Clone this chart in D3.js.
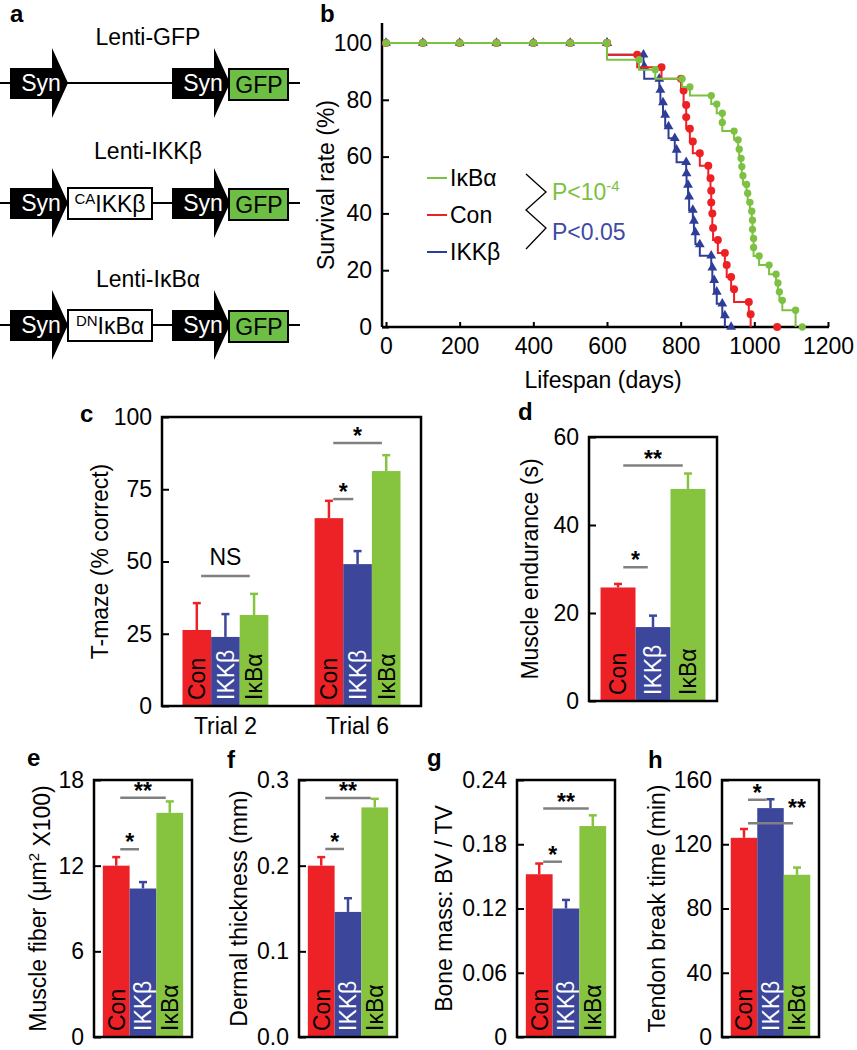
<!DOCTYPE html>
<html lang='en'>
<head>
<meta charset='UTF-8'>
<script src='https://d3js.org/d3.v7.min.js'></script>
<title>NF-kB ageing figure</title>
<style>
  body { margin: 0; background: #fff; }
  svg text { font-family: 'Liberation Sans', Arial, sans-serif; }
</style>
</head>
<body>
<svg id='fig' width='857' height='1050'></svg>
<script>
// ---- data ----
const groups = ['Con', 'IKKβ', 'IκBα']

// panel a: constructs
const constructTitles = ['Lenti-GFP', 'Lenti-IKKβ', 'Lenti-IκBα']
const constructInserts = [null, ['CA', 'IKKβ'], ['DN', 'IκBα']]

// panel b: Kaplan-Meier steps (day of death, survival % just before it)
const survTopDays = [0, 100, 200, 300, 400, 500, 600]
const conDays = [600, 682, 748, 801, 808, 815, 815, 825, 833, 852, 875, 881, 883, 883, 886, 888, 901, 920, 925, 937, 945, 985, 990]
const conSurv = [100, 95.9, 91.5, 87.4, 83.3, 78.2, 73.9, 69.8, 65.3, 61.2, 56.8, 52.4, 48, 43.8, 40, 34.9, 30.6, 26.1, 21.8, 17.6, 13.3, 8.8, 4.5]
const ikkDays = [600, 699, 701, 742, 745, 752, 758, 767, 784, 789, 815, 816, 820, 823, 833, 836, 840, 852, 883, 886, 891, 898, 913, 920]
const ikkSurv = [100, 95.9, 91.8, 87.4, 83.5, 79.1, 74.7, 70.6, 66.5, 62.4, 58, 54.1, 50, 45.9, 41.2, 37.4, 33.3, 29.1, 25.1, 20.9, 16.5, 12.4, 8.2, 4.1]
const ikbDays = [600, 687, 731, 804, 825, 883, 898, 913, 913, 945, 956, 959, 964, 966, 969, 979, 982, 988, 993, 995, 995, 998, 998, 1013, 1040, 1059, 1064, 1068, 1076, 1112]
const ikbSurv = [100, 94.1, 90.6, 87.4, 84.5, 81.5, 78.5, 75.3, 72, 69, 65.9, 62.6, 59.4, 56.5, 53.3, 50.2, 47.1, 43.9, 40.8, 37.6, 34.4, 31.2, 28, 25, 21.8, 18.6, 15.5, 12.4, 9.4, 5.9]
const lastCensored = [1062, 937, 1130]   // Con, IKKβ, IκBα marks at 0 %
const survTicksX = [0, 200, 400, 600, 800, 1000, 1200]
const survTicksY = [0, 20, 40, 60, 80, 100]

// panel c: T-maze
const tmazeTrials = ['Trial 2', 'Trial 6']
const tmazeMean = [[26.3, 23.9, 31.5], [65, 49.1, 81.3]]
const tmazeErr = [[9.3, 7.9, 7.3], [6, 4.5, 5.5]]
const tmazeSig = [[0, 0, 2, 'NS', 45], [1, 0, 2, '*', 91], [1, 0, 1, '*', 71.6]]

// panels d-h
const enduranceMean = [25.8, 16.8, 48.2]
const enduranceErr = [0.8, 2.6, 3.5]
const enduranceSig = [[0, 0, 2, '**', 53.5], [0, 0, 1, '*', 30.4]]
const fiberMean = [12.0, 10.4, 15.7]
const fiberErr = [0.6, 0.45, 0.8]
const fiberSig = [[0, 0, 2, '**', 16.75], [0, 0, 1, '*', 13.15]]
const dermalMean = [0.200, 0.146, 0.268]
const dermalErr = [0.010, 0.016, 0.010]
const dermalSig = [[0, 0, 2, '**', 0.279], [0, 0, 1, '*', 0.2195]]
const boneMean = [0.152, 0.120, 0.197]
const boneErr = [0.010, 0.008, 0.010]
const boneSig = [[0, 0, 2, '**', 0.2133], [0, 0, 1, '*', 0.1637]]
const tendonMean = [124, 142.5, 101]
const tendonErr = [5.5, 5.5, 4.5]
const tendonSig = [[0, 0, 1, '*', 147.7], [0, 0, 2, '**', 133, 'end']]

// ---- styling ----
const barColors = ['#ec2227', '#3c479c', '#86c440']
const barText = ['#000', '#fff', '#000']
const lineColors = ['#ed2024', '#2e3d98', '#7dc142']
const fs = 23

const svg = d3.select('#fig')

function letter(x, y, t) {
  svg.append('text').attr('x', x).attr('y', y).text(t)
    .style('font-size', '24px').style('font-weight', 'bold')
}

// ---- panel a ----
const rowY = [83, 203, 325]
const titleY = [37, 151, 279]
letter(10, 22, 'a')

function promoter(g, x0, y) {
  g.append('path')
    .attr('d', `M${x0},${y - 15}H${x0 + 42}V${y - 35}L${x0 + 58},${y}L${x0 + 42},${y + 35}V${y + 16}H${x0}Z`)
    .attr('fill', '#000')
  g.append('text').attr('x', x0 + 31).attr('y', y + 8).attr('text-anchor', 'middle')
    .attr('fill', '#fff').style('font-size', fs + 'px').text('Syn')
}

constructTitles.forEach((title, i) => {
  const y = rowY[i]
  const g = svg.append('g')
  g.append('text').attr('x', 148).attr('y', titleY[i] + 8).attr('text-anchor', 'middle')
    .style('font-size', fs + 'px').text(title)
  g.append('line').attr('x1', 0).attr('x2', 300).attr('y1', y).attr('y2', y)
    .attr('stroke', '#000').attr('stroke-width', 2)
  promoter(g, 10, y)
  promoter(g, 172, y)
  g.append('rect').attr('x', 229).attr('y', y - 14).attr('width', 59).attr('height', 31)
    .attr('fill', '#6cbe45').attr('stroke', '#000').attr('stroke-width', 2)
  g.append('text').attr('x', 259).attr('y', y + 10).attr('text-anchor', 'middle')
    .style('font-size', fs + 'px').text('GFP')
  const ins = constructInserts[i]
  if (ins) {
    g.append('rect').attr('x', 68).attr('y', y - 15).attr('width', 84).attr('height', 31)
      .attr('fill', '#fff').attr('stroke', '#000').attr('stroke-width', 2)
    const t = g.append('text').attr('x', 110).attr('y', y + 9).attr('text-anchor', 'middle')
    t.append('tspan').style('font-size', '15px').attr('dy', -8).text(ins[0])
    t.append('tspan').style('font-size', fs + 'px').attr('dy', 8).text(ins[1])
  }
})

// ---- panel b ----
letter(320, 22, 'b')
const sx = d3.scaleLinear().domain([0, 1200]).range([386, 828])
const sy = d3.scaleLinear().domain([0, 100]).range([327, 43])
const axX = 382

const bG = svg.append('g')
bG.append('line').attr('x1', axX).attr('x2', axX).attr('y1', 327).attr('y2', 23)
  .attr('stroke', '#000').attr('stroke-width', 2.5)
bG.append('line').attr('x1', axX).attr('x2', 829).attr('y1', 327).attr('y2', 327)
  .attr('stroke', '#000').attr('stroke-width', 2.5)

const yAx = bG.append('g').attr('transform', `translate(${axX},0)`)
  .call(d3.axisLeft(sy).tickValues(survTicksY).tickFormat(d => d)
    .tickSizeInner(-7).tickSizeOuter(0).tickPadding(10))
const xAx = bG.append('g').attr('transform', 'translate(0,327)')
  .call(d3.axisBottom(sx).tickValues(survTicksX).tickFormat(d => d)
    .tickSizeInner(-5).tickSizeOuter(0).tickPadding(11))
;[yAx, xAx].forEach(a => {
  a.select('.domain').remove()
  a.selectAll('line').attr('stroke', '#000').attr('stroke-width', 2)
  a.selectAll('text').style('font-size', fs + 'px').attr('fill', '#000')
})

bG.append('text').attr('transform', 'translate(326,185) rotate(-90)').attr('dy', '0.35em')
  .attr('text-anchor', 'middle').style('font-size', fs + 'px').text('Survival rate (%)')
bG.append('text').attr('x', 603).attr('y', 388).attr('text-anchor', 'middle')
  .style('font-size', fs + 'px').text('Lifespan (days)')

const series = [
  {days: ikkDays, surv: ikkSurv, ci: 1, sym: d3.symbolTriangle, size: 42},
  {days: conDays, surv: conSurv, ci: 0, sym: d3.symbolCircle, size: 50},
  {days: ikbDays, surv: ikbSurv, ci: 2, sym: d3.symbolCircle, size: 42}
]
const stepLine = d3.line().x(d => sx(d[0])).y(d => sy(d[1])).curve(d3.curveStepAfter)

series.forEach(s => {
  const pts = [[0, 100]]
  s.days.forEach((d, i) => pts.push([d, i + 1 < s.surv.length ? s.surv[i + 1] : 0]))
  const col = lineColors[s.ci]
  bG.append('path').attr('d', stepLine(pts)).attr('fill', 'none')
    .attr('stroke', col).attr('stroke-width', 2)
  const marks = survTopDays.map(d => [d, 100])
    .concat(s.days.map((d, i) => [d, s.surv[i]]))
    .concat([[lastCensored[s.ci], 0]])
  bG.selectAll(null).data(marks).enter().append('path')
    .attr('d', d3.symbol().type(s.sym).size(s.size))
    .attr('transform', d => `translate(${sx(d[0])},${sy(d[1])})`)
    .attr('fill', col)
})

// legend
const legendOrder = [2, 0, 1]
const legY = [178, 215, 252]
legendOrder.forEach((ci, k) => {
  bG.append('line').attr('x1', 427).attr('x2', 447).attr('y1', legY[k]).attr('y2', legY[k])
    .attr('stroke', lineColors[ci]).attr('stroke-width', 2)
  bG.append('text').attr('x', 450).attr('y', legY[k]).attr('dy', '0.35em')
    .style('font-size', fs + 'px').text(groups[ci])
})
bG.append('path').attr('d', 'M526,174L546,192L526,210L546,228L526,249')
  .attr('fill', 'none').attr('stroke', '#000').attr('stroke-width', 1.3)
const p1 = bG.append('text').attr('x', 552).attr('y', 200).attr('fill', lineColors[2])
  .style('font-size', fs + 'px')
p1.append('tspan').text('P<10')
p1.append('tspan').attr('dy', -9).style('font-size', '15px').text('-4')
bG.append('text').attr('x', 552).attr('y', 240).attr('fill', '#3f4aa5')
  .style('font-size', fs + 'px').text('P<0.05')

// ---- bar panels ----
function barPanel(o) {
  const g = svg.append('g')
  const y = d3.scaleLinear().domain(o.domain).range([o.bottom, o.top])
  const outer = d3.scaleBand().domain(d3.range(o.means.length)).range([o.left, o.right])
    .paddingInner(o.pi || 0).paddingOuter(o.po)
  const inner = d3.scaleBand().domain(d3.range(3)).range([0, outer.bandwidth()])
  const bw = inner.bandwidth()

  o.means.forEach((ms, c) => {
    ms.forEach((m, k) => {
      const x0 = outer(c) + inner(k)
      const xc = x0 + bw / 2
      const top = y(m + o.errs[c][k])
      g.append('line').attr('x1', xc).attr('x2', xc).attr('y1', y(m)).attr('y2', top)
        .attr('stroke', barColors[k]).attr('stroke-width', 2.5)
      g.append('line').attr('x1', xc - 4).attr('x2', xc + 4).attr('y1', top).attr('y2', top)
        .attr('stroke', barColors[k]).attr('stroke-width', 2.5)
      g.append('rect').attr('x', x0).attr('width', bw).attr('y', y(m))
        .attr('height', o.bottom - y(m)).attr('fill', barColors[k])
      g.append('text').attr('transform', `translate(${xc + 8.3},${o.bottom - 6}) rotate(-90)`)
        .attr('fill', barText[k]).style('font-size', fs + 'px').text(groups[k])
    })
  })

  o.sig.forEach(s => {
    const [c, a, b, label, v, pos] = s
    const x1 = outer(c) + inner(a) + bw * 0.65
    const x2 = outer(c) + inner(b) + bw * 0.35
    const yy = y(v)
    g.append('line').attr('x1', x1).attr('x2', x2).attr('y1', yy).attr('y2', yy)
      .attr('stroke', '#808080').attr('stroke-width', 2.5)
    const ns = label === 'NS'
    g.append('text').attr('x', pos === 'end' ? x2 + 4 : (x1 + x2) / 2)
      .attr('y', ns ? yy - 11 : (pos === 'end' ? yy - 7 : yy + 1))
      .attr('text-anchor', 'middle').style('font-size', fs + 'px')
      .style('font-weight', ns ? 'normal' : 'bold').text(label)
  })

  g.append('rect').attr('x', o.left).attr('y', o.top).attr('width', o.right - o.left)
    .attr('height', o.bottom - o.top).attr('fill', 'none')
    .attr('stroke', '#000').attr('stroke-width', 2.5)

  const ax = g.append('g').attr('transform', `translate(${o.left},0)`)
    .call(d3.axisLeft(y).tickValues(o.ticks).tickFormat(o.fmt || (d => d))
      .tickSizeInner(-7).tickSizeOuter(0).tickPadding(10))
  ax.select('.domain').remove()
  ax.selectAll('line').attr('stroke', '#000').attr('stroke-width', 2)
  ax.selectAll('text').style('font-size', fs + 'px').attr('fill', '#000')

  const lab = g.append('text')
    .attr('transform', `translate(${o.labelX},${(o.top + o.bottom) / 2}) rotate(-90)`)
    .attr('dy', '0.35em').attr('text-anchor', 'middle').style('font-size', fs + 'px')
  o.label.forEach(part => {
    const t = lab.append('tspan').text(part[0])
    if (part[1]) t.attr('dy', part[1]).style('font-size', part[2])
  })

  if (o.cats) {
    o.cats.forEach((c, i) => {
      g.append('text').attr('x', outer(i) + outer.bandwidth() / 2).attr('y', o.bottom + 28)
        .attr('text-anchor', 'middle').style('font-size', fs + 'px').text(c)
    })
  }
}

letter(80, 422, 'c')
barPanel({left: 162, right: 421, top: 417, bottom: 706, domain: [0, 100], ticks: [0, 25, 50, 75, 100],
  means: tmazeMean, errs: tmazeErr, sig: tmazeSig, pi: 0.35, po: 0.155,
  label: [['T-maze (% correct)']], labelX: 100, cats: tmazeTrials})

letter(518, 420, 'd')
barPanel({left: 589, right: 717, top: 437, bottom: 701, domain: [0, 60], ticks: [0, 20, 40, 60],
  means: [enduranceMean], errs: [enduranceErr], sig: enduranceSig, po: 0.11,
  label: [['Muscle endurance (s)']], labelX: 530})

const efTop = 780, efBot = 1037
letter(27, 766, 'e')
barPanel({left: 94, right: 192, top: efTop, bottom: efBot, domain: [0, 18], ticks: [0, 6, 12, 18],
  means: [fiberMean], errs: [fiberErr], sig: fiberSig, po: 0.11,
  label: [['Muscle fiber (μm'], ['2', '-0.45em', '15px'], [' X100)', '0.45em', fs + 'px']], labelX: 38})

letter(227, 768, 'f')
barPanel({left: 299, right: 397, top: efTop, bottom: efBot, domain: [0, 0.3], ticks: [0, 0.1, 0.2, 0.3],
  fmt: d3.format('.1f'), means: [dermalMean], errs: [dermalErr], sig: dermalSig, po: 0.11,
  label: [['Dermal thickness (mm)']], labelX: 239})

letter(427, 766, 'g')
barPanel({left: 517, right: 615, top: efTop, bottom: efBot, domain: [0, 0.24], ticks: [0, 0.06, 0.12, 0.18, 0.24],
  fmt: d => d === 0 ? '0' : d3.format('.2f')(d), means: [boneMean], errs: [boneErr], sig: boneSig, po: 0.11,
  label: [['Bone mass: BV / TV']], labelX: 444})

letter(648, 768, 'h')
barPanel({left: 722, right: 819, top: efTop, bottom: efBot, domain: [0, 160], ticks: [0, 40, 80, 120, 160],
  means: [tendonMean], errs: [tendonErr], sig: tendonSig, po: 0.11,
  label: [['Tendon break time (min)']], labelX: 657})
</script>
</body>
</html>
